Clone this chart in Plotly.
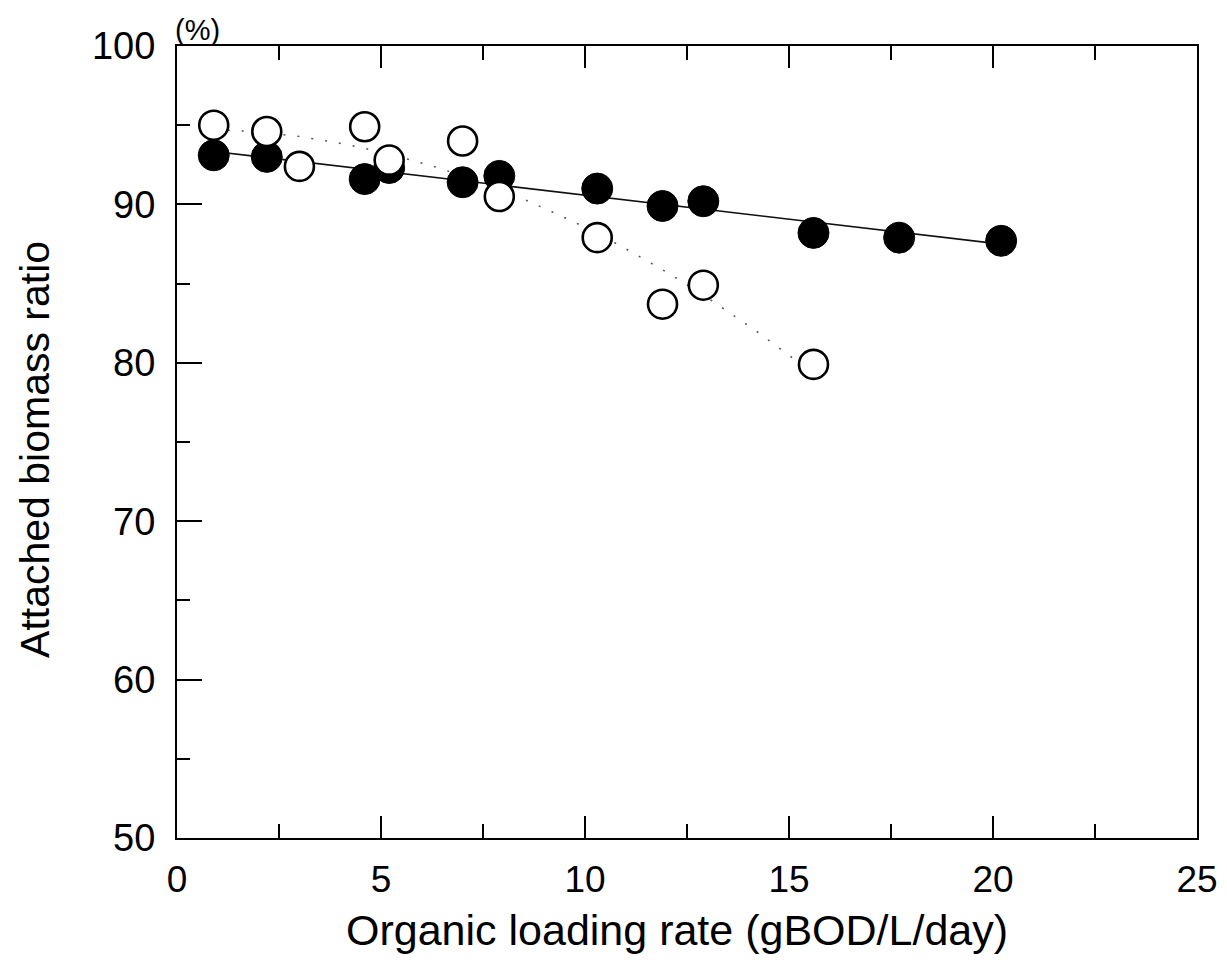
import numpy as np
import plotly.graph_objects as go

# Filled circles (attached biomass ratio, series 1)
filled_x = [0.9, 2.2, 4.6, 5.2, 7.0, 7.9, 10.3, 11.9, 12.9, 15.6, 17.7, 20.2]
filled_y = [93.1, 93.0, 91.6, 92.3, 91.4, 91.8, 91.0, 89.9, 90.2, 88.2, 87.9, 87.7]

# Open circles (series 2)
open_x = [0.9, 2.2, 3.0, 4.6, 5.2, 7.0, 7.9, 10.3, 11.9, 12.9, 15.6]
open_y = [95.0, 94.6, 92.4, 94.9, 92.8, 94.0, 90.5, 87.9, 83.7, 84.9, 79.9]

x_ticks = [0, 5, 10, 15, 20, 25]
y_ticks = [50, 60, 70, 80, 90, 100]

# Trend lines fitted from the data
fx = np.array(filled_x); fy = np.array(filled_y)
p1 = np.polyfit(fx, fy, 1)
lx1 = np.linspace(fx.min(), fx.max(), 50)
ly1 = np.polyval(p1, lx1)

ox = np.array(open_x); oy = np.array(open_y)
p2 = np.polyfit(ox, oy, 2)
lx2 = np.linspace(ox.min(), ox.max(), 80)
ly2 = np.polyval(p2, lx2)

fig = go.Figure()
fig.add_trace(go.Scatter(x=lx2, y=ly2, mode="lines",
                         line=dict(color="#555", width=1.5, dash="2px,12px"),
                         showlegend=False, hoverinfo="skip"))
fig.add_trace(go.Scatter(x=lx1, y=ly1, mode="lines",
                         line=dict(color="#111", width=1.6),
                         showlegend=False, hoverinfo="skip"))
fig.add_trace(go.Scatter(x=filled_x, y=filled_y, mode="markers",
                         marker=dict(size=31, color="black", line=dict(color="black", width=1)),
                         showlegend=False))
fig.add_trace(go.Scatter(x=open_x, y=open_y, mode="markers",
                         marker=dict(size=29, color="white", line=dict(color="black", width=2.6)),
                         showlegend=False))

font_family = "Liberation Sans, Arial, Helvetica, sans-serif"

fig.update_layout(
    width=1227, height=976,
    margin=dict(l=169, r=38, t=38, b=146),
    paper_bgcolor="white", plot_bgcolor="white",
    font=dict(family=font_family, color="black"),
    xaxis=dict(range=[0, 25], tickvals=x_ticks, ticks="inside", ticklen=22, tickwidth=2,
               tickcolor="black", showline=True, linecolor="black", linewidth=2,
               mirror="ticks", showgrid=False, zeroline=False, automargin=False,
               minor=dict(dtick=2.5, ticks="inside", ticklen=14, tickwidth=2, tickcolor="black"),
               tickfont=dict(size=37), ticklabelstandoff=8),
    yaxis=dict(range=[50, 100], tickvals=y_ticks, ticks="inside", ticklen=25, tickwidth=2,
               tickcolor="black", showline=True, linecolor="black", linewidth=2,
               mirror=True, showgrid=False, zeroline=False, automargin=False,
               minor=dict(dtick=5, ticks="inside", ticklen=13, tickwidth=2, tickcolor="black"),
               tickfont=dict(size=38), ticklabelstandoff=12),
    annotations=[
        dict(text="(%)", x=0, y=1.0, xref="paper", yref="paper",
             xanchor="left", yanchor="bottom", showarrow=False, xshift=-4, yshift=-2,
             font=dict(size=29, family=font_family)),
        dict(text="Organic loading rate (gBOD/L/day)", x=0.49, y=0, xref="paper", yref="paper",
             xanchor="center", yanchor="middle", showarrow=False, yshift=-92,
             font=dict(size=43, family=font_family)),
        dict(text="Attached biomass ratio", x=0, y=0.49, xref="paper", yref="paper",
             xanchor="center", yanchor="middle", showarrow=False, xshift=-142, textangle=-90,
             font=dict(size=41, family=font_family)),
    ],
)

fig.write_html("out.html")
